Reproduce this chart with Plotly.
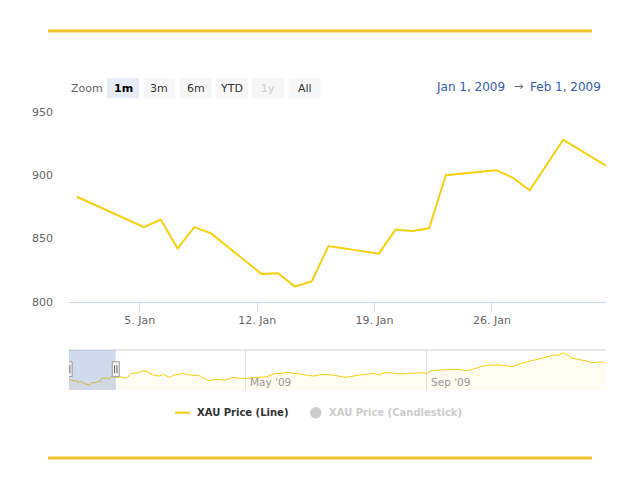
import pandas as pd
import plotly.graph_objects as go

# ---------------- data ----------------
price_dates = [
    "2009-01-01", "2009-01-05", "2009-01-06", "2009-01-07", "2009-01-08", "2009-01-09",
    "2009-01-12", "2009-01-13", "2009-01-14", "2009-01-15", "2009-01-16",
    "2009-01-19", "2009-01-20", "2009-01-21", "2009-01-22", "2009-01-23",
    "2009-01-26", "2009-01-27", "2009-01-28", "2009-01-30", "2009-02-02",
    "2009-02-05", "2009-02-09", "2009-02-12", "2009-02-17", "2009-02-20", "2009-02-23",
    "2009-02-27", "2009-03-03", "2009-03-06", "2009-03-10", "2009-03-13", "2009-03-19",
    "2009-03-24", "2009-03-30", "2009-04-06", "2009-04-10", "2009-04-17", "2009-04-22",
    "2009-04-27", "2009-05-01", "2009-05-08", "2009-05-15", "2009-05-21", "2009-05-25",
    "2009-05-29", "2009-06-04", "2009-06-10", "2009-06-16", "2009-06-22", "2009-06-29",
    "2009-07-08", "2009-07-17", "2009-07-27", "2009-07-30", "2009-08-03", "2009-08-07",
    "2009-08-14", "2009-08-20", "2009-08-27", "2009-09-01", "2009-09-04", "2009-09-10",
    "2009-09-17", "2009-09-22", "2009-09-28", "2009-10-02", "2009-10-09", "2009-10-14",
    "2009-10-21", "2009-10-29", "2009-11-04", "2009-11-12", "2009-11-17", "2009-11-24",
    "2009-11-26", "2009-11-30", "2009-12-03", "2009-12-07", "2009-12-09", "2009-12-15",
    "2009-12-18", "2009-12-22", "2009-12-28", "2009-12-29", "2009-12-31",
]
price_values = [
    883, 859, 865, 842, 859, 854,
    822, 822.5, 812, 816, 844,
    838, 857, 856, 858, 900,
    904, 898, 888, 928, 904,
    916, 896, 958, 966, 991, 978,
    937, 924, 946, 908, 937, 958,
    937, 931, 866, 883, 874, 908,
    896, 896, 908, 916, 958, 958,
    971, 958, 937, 924, 946, 937,
    908, 937, 958, 937, 966, 966,
    950, 958, 966, 958, 991, 1000,
    1008, 1008, 991, 1008, 1050, 1062,
    1062, 1041, 1083, 1116, 1146, 1175,
    1187, 1187, 1216, 1175, 1146, 1125,
    1116, 1091, 1103, 1103, 1083,
]
series_name = "XAU Price (Line)"
hidden_series_name = "XAU Price (Candlestick)"

view_start = "2008-12-31 18:40"
view_end = "2009-02-01 19:10"
nav_start = "2009-01-01"
nav_end = "2010-01-01"
main_y_range = [800, 950]
nav_y_range = [750, 1250]

main_tick0 = "2009-01-05"
nav_tick_dates = ["2009-05-01", "2009-09-01"]
nav_tick_labels = ["May '09", "Sep '09"]

button_labels = ["1m", "3m", "6m", "YTD", "1y", "All"]
selected_button = "1m"
disabled_button = "1y"
range_from_text = "Jan 1, 2009"
range_to_text = "Feb 1, 2009"

# ---------------- layout helpers ----------------
W, H = 640, 480
PL, PR, PT, PB = 69, 606, 112, 390


def px(x):
    return (x - PL) / (PR - PL)


def py(y):
    return (PB - y) / (PB - PT)


FONT = "DejaVu Sans"
LINE_COLOR = "#f7d10f"
x_vals = pd.to_datetime(price_dates) + pd.Timedelta(hours=6)

fig = go.Figure()
fig.add_trace(go.Scatter(
    x=x_vals, y=price_values, mode="lines", name=series_name,
    line=dict(color=LINE_COLOR, width=2), xaxis="x", yaxis="y",
    hoverinfo="skip",
))
fig.add_trace(go.Scatter(
    x=x_vals, y=price_values, mode="lines", name=series_name + " nav",
    line=dict(color=LINE_COLOR, width=1), fill="tozeroy",
    fillcolor="rgba(247,209,15,0.06)", xaxis="x2", yaxis="y2",
    hoverinfo="skip",
))

shapes = []
annotations = []

# decorative page lines
for yy in (31, 458):
    shapes.append(dict(type="line", xref="paper", yref="paper",
                       x0=px(48), x1=px(592), y0=py(yy), y1=py(yy),
                       line=dict(color="#f2c12e", width=3)))

# navigator top outline
shapes.append(dict(type="line", xref="paper", yref="paper",
                   x0=0, x1=1, y0=py(350), y1=py(350),
                   line=dict(color="#d0d0d0", width=1)))

# navigator mask
shapes.append(dict(type="rect", xref="x2", yref="paper",
                   x0=view_start, x1=view_end, y0=0, y1=py(350),
                   fillcolor="rgba(102,133,194,0.3)", line=dict(width=0),
                   layer="above"))

# handles
hy = py(369.2)
for xa in (view_start, view_end):
    shapes.append(dict(type="rect", xref="x2", yref="paper",
                       xsizemode="pixel", xanchor=xa, x0=-3.5, x1=3.5,
                       ysizemode="pixel", yanchor=hy, y0=-7.5, y1=7.5,
                       fillcolor="#f2f2f2", line=dict(color="#999999", width=1),
                       layer="above"))
    for off in (-1.2, 1.2):
        shapes.append(dict(type="line", xref="x2", yref="paper",
                           xsizemode="pixel", xanchor=xa, x0=off, x1=off,
                           ysizemode="pixel", yanchor=hy, y0=-4, y1=4,
                           line=dict(color="#666666", width=1), layer="above"))

# navigator labels
for d, lab in zip(nav_tick_dates, nav_tick_labels):
    annotations.append(dict(xref="x2", yref="paper", x=d, y=py(381.5),
                            text=lab, showarrow=False, xanchor="left",
                            yanchor="middle", xshift=2,
                            font=dict(family=FONT, size=10.5, color="#999999")))

# range selector
annotations.append(dict(xref="paper", yref="paper", x=px(69), y=py(88),
                        text="Zoom", showarrow=False, xanchor="left",
                        yanchor="middle",
                        font=dict(family=FONT, size=11, color="#666666")))
for i, lab in enumerate(button_labels):
    x0 = 107 + 36.3 * i
    sel = lab == selected_button
    dis = lab == disabled_button
    shapes.append(dict(type="rect", xref="paper", yref="paper",
                       x0=px(x0), x1=px(x0 + 32), y0=py(98.3), y1=py(78.3),
                       fillcolor="#e6ebf5" if sel else "#f7f7f7",
                       line=dict(width=0)))
    annotations.append(dict(xref="paper", yref="paper", x=px(x0 + 16), y=py(88),
                            text="<b>%s</b>" % lab if sel else lab,
                            showarrow=False, xanchor="center", yanchor="middle",
                            font=dict(family=FONT, size=11,
                                      color="#000000" if sel else ("#cccccc" if dis else "#333333"))))

annotations.append(dict(xref="paper", yref="paper", x=px(434), y=py(87),
                        text=range_from_text, showarrow=False, xanchor="left",
                        yanchor="middle", font=dict(family=FONT, size=12, color="#335cad")))
annotations.append(dict(xref="paper", yref="paper", x=px(518.5), y=py(87),
                        text="\u2192", showarrow=False, xanchor="center",
                        yanchor="middle", font=dict(family=FONT, size=11, color="#666666")))
annotations.append(dict(xref="paper", yref="paper", x=px(603), y=py(87),
                        text=range_to_text, showarrow=False, xanchor="right",
                        yanchor="middle", font=dict(family=FONT, size=12, color="#335cad")))

# legend
ly = py(412.7)
shapes.append(dict(type="line", xref="paper", yref="paper",
                   x0=px(175), x1=px(190), y0=ly, y1=ly,
                   line=dict(color=LINE_COLOR, width=2)))
annotations.append(dict(xref="paper", yref="paper", x=px(195), y=ly,
                        text="<b>%s</b>" % series_name, showarrow=False,
                        xanchor="left", yanchor="middle",
                        font=dict(family=FONT, size=10, color="#333333")))
shapes.append(dict(type="circle", xref="paper", yref="paper",
                   x0=px(310), x1=px(321.5), y0=py(418.5), y1=py(407),
                   fillcolor="#cccccc", line=dict(width=0)))
annotations.append(dict(xref="paper", yref="paper", x=px(327), y=ly,
                        text="<b>%s</b>" % hidden_series_name, showarrow=False,
                        xanchor="left", yanchor="middle",
                        font=dict(family=FONT, size=10, color="#cccccc")))

fig.update_layout(
    width=W, height=H,
    margin=dict(l=PL, r=W - PR, t=PT, b=H - PB, autoexpand=False),
    paper_bgcolor="white", plot_bgcolor="white",
    showlegend=False,
    font=dict(family=FONT, size=11, color="#666666"),
    xaxis=dict(domain=[0, 1], anchor="y", type="date",
               range=[view_start, view_end],
               showline=True, linecolor="#ccd6eb", linewidth=1,
               ticks="outside", ticklen=8, tickcolor="#ccd6eb", tickwidth=1,
               tick0=main_tick0, dtick=7 * 86400000, tickformat="%-d. %b",
               tickfont=dict(family=FONT, size=11, color="#666666"),
               showgrid=False, zeroline=False, fixedrange=True),
    yaxis=dict(domain=[py(301.7), 1], anchor="x", range=main_y_range,
               dtick=50, showgrid=False, zeroline=False, showline=False,
               ticks="", ticklabelstandoff=15,
               tickfont=dict(family=FONT, size=11, color="#666666")),
    xaxis2=dict(domain=[0, 1], anchor="y2", type="date",
                range=[nav_start, nav_end],
                tickvals=nav_tick_dates, showticklabels=False, ticks="",
                showgrid=True, gridcolor="#e3e3e3", gridwidth=1,
                showline=False, zeroline=False),
    yaxis2=dict(domain=[0, py(350)], anchor="x2", range=nav_y_range,
                visible=False, showgrid=False, zeroline=False),
    shapes=shapes,
    annotations=annotations,
)

fig.write_html("out.html",
               config={"displayModeBar": False},
               post_script="document.body.style.margin='0px';document.body.style.padding='0px';")
